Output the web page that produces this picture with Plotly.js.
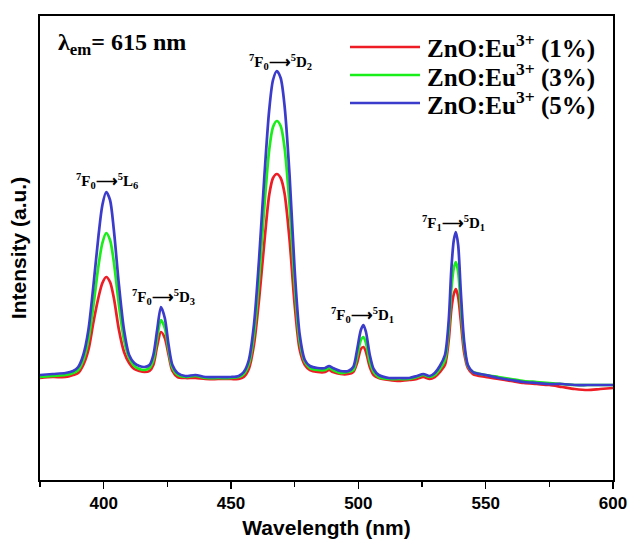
<!DOCTYPE html>
<html>
<head>
<meta charset="utf-8">
<script src="https://cdn.plot.ly/plotly-3.0.1.min.js"></script>
<style>html,body{margin:0;padding:0;background:#fff;}#chart{width:629px;height:539px;}</style>
</head>
<body>
<div id="chart"></div>
<script>
// Wavelength (nm)
const wavelength = [375,380,385,388,390,392,394,396,398,399.5,401,402.5,404,406,408,410,412,414,416,418,419.5,421,422.5,424,425.5,427,429,432,436,440,445,450,453,455,457,459,461,463,465,466.5,468,469.5,471,473,475,477,479,481,484,487,488.5,490,493,496,498,499.5,501,502,503,504.5,506,508,512,516,520,523,525.5,528,530,532,534,535.5,536.5,537.5,538.3,539.2,540.2,541.5,543,545,550,555,560,565,570,575,580,585,590,595,600];
// Intensity (a.u.) for each Eu3+ concentration
const eu5 = [109,110,111,113,117,129,154,199,249,279,292,284,254,199,154,129,121,118,117,119,129,154,177,166,139,119,111,108,109,107,107,107,108,112,124,159,224,304,374,404,413,406,379,309,214,149,124,118,116,116,118,116,113,113,117,134,154,159,152,129,115,109,106,106,106,108,110,108,111,118,129,164,214,244,252,239,194,144,119,112,109,106,104,102,101,100,100,99,99,99,99];
const eu3 = [107,108,109,111,114,124,144,179,219,241,251,244,222,179,144,126,118,115,114,116,124,146,164,156,134,116,109,107,108,106,106,106,107,110,120,149,204,274,334,357,363,358,337,279,199,142,122,116,114,114,116,114,111,112,114,127,144,147,141,122,112,107,105,105,105,107,109,107,109,115,124,154,194,216,222,212,179,139,118,112,109,107,105,103,102,101,100,99,99,99,99];
const eu1 = [106,107,107,109,111,119,134,162,187,201,207,202,186,154,132,121,115,113,112,113,119,138,152,146,129,113,107,106,106,105,105,105,105,107,115,139,184,239,289,306,310,306,291,244,179,134,119,114,112,112,114,112,110,110,112,121,135,137,132,117,109,106,104,103,104,105,107,105,107,112,119,144,174,190,195,187,164,132,116,110,107,105,103,101,100,99,97,95,94,95,96];
const seriesNames = ['ZnO:Eu<sup>3+</sup> (1%)','ZnO:Eu<sup>3+</sup> (3%)','ZnO:Eu<sup>3+</sup> (5%)'];
const seriesColors = ['#ee1c24','#1aee1a','#3b3bcc'];
const xTicks = [400,450,500,550,600];
const peakLabels = ['<sup>7</sup>F<sub>0</sub>⟶<sup>5</sup>L<sub>6</sub>','<sup>7</sup>F<sub>0</sub>⟶<sup>5</sup>D<sub>3</sub>','<sup>7</sup>F<sub>0</sub>⟶<sup>5</sup>D<sub>2</sub>','<sup>7</sup>F<sub>0</sub>⟶<sup>5</sup>D<sub>1</sub>','<sup>7</sup>F<sub>1</sub>⟶<sup>5</sup>D<sub>1</sub>'];

const W = 629, H = 539, L = 40, R = 16, T = 16, B = 59;
const pw = W - L - R, ph = H - T - B;
const px = v => (v - L) / pw;
const py = v => (H - B - v) / ph;

const allY = [eu1, eu3, eu5];
const traces = allY.map((y, i) => ({
  x: wavelength, y: y, type: 'scatter', mode: 'lines', name: seriesNames[i],
  line: {color: seriesColors[i], width: 2.7, shape: 'spline', smoothing: 0.8},
  showlegend: false, hoverinfo: 'skip'
}));

const serif = 'Liberation Serif, Times New Roman, serif';
const sans = 'Liberation Sans, Arial, sans-serif';
const labelPos = [[107,181],[163,297],[280,62],[363,315],[453,223]];
const annotations = peakLabels.map((t, i) => ({
  text: t, xref: 'paper', yref: 'paper', x: px(labelPos[i][0]), y: py(labelPos[i][1]),
  xanchor: 'center', yanchor: 'middle', showarrow: false,
  font: {family: serif, size: 15, color: '#000', weight: 'bold'}
}));
annotations.push({
  text: 'λ<sub>em</sub>= 615 nm', xref: 'paper', yref: 'paper', x: px(56), y: py(44),
  xanchor: 'left', yanchor: 'middle', showarrow: false,
  font: {family: serif, size: 24, color: '#000', weight: 'bold'}
});
const legY = [47, 75, 103];
const shapes = [];
seriesNames.forEach((n, i) => {
  shapes.push({type: 'line', xref: 'paper', yref: 'paper', x0: px(350), x1: px(420), y0: py(legY[i]), y1: py(legY[i]),
    line: {color: seriesColors[i], width: 2.7}});
  annotations.push({text: n, xref: 'paper', yref: 'paper', x: px(425), y: py(legY[i]),
    xanchor: 'left', yanchor: 'middle', showarrow: false,
    font: {family: serif, size: 25, color: '#000', weight: 'bold'}});
});

const layout = {
  width: W, height: H,
  margin: {l: L, r: R, t: T, b: B, pad: 0},
  paper_bgcolor: '#fff', plot_bgcolor: '#fff',
  showlegend: false,
  xaxis: {
    range: [375, 600], tickmode: 'array', tickvals: xTicks, ticktext: xTicks.map(String),
    ticks: 'outside', ticklen: 7, tickwidth: 1.5, tickcolor: '#000',
    minor: {dtick: 25, tick0: 375, ticks: 'outside', ticklen: 5, tickwidth: 1.5, tickcolor: '#000'},
    showline: true, linecolor: '#000', linewidth: 2, mirror: true,
    showgrid: false, zeroline: false,
    tickfont: {family: sans, size: 17, color: '#000', weight: 'bold'},
    title: {text: 'Wavelength (nm)', font: {family: sans, size: 21, color: '#000', weight: 'bold'}, standoff: 8},
    automargin: false
  },
  yaxis: {
    range: [4, 468], showticklabels: false, ticks: '',
    showline: true, linecolor: '#000', linewidth: 2, mirror: true,
    showgrid: false, zeroline: false,
    title: {text: 'Intensity (a.u.)', font: {family: sans, size: 21, color: '#000', weight: 'bold'}, standoff: 6},
    automargin: false
  },
  annotations: annotations,
  shapes: shapes
};

Plotly.newPlot('chart', traces, layout, {staticPlot: true, displayModeBar: false});
</script>
</body>
</html>
